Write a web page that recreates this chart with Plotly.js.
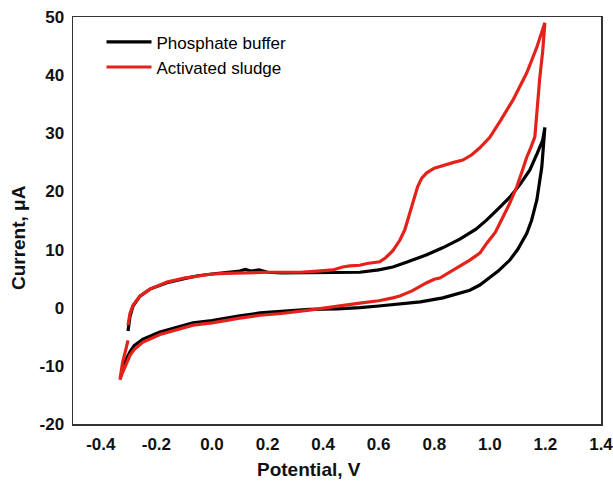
<!DOCTYPE html>
<html>
<head>
<meta charset="utf-8">
<script src="https://cdn.plot.ly/plotly-3.0.1.min.js"></script>
<style>html,body{margin:0;padding:0;background:#fff;}#chart{width:613px;height:482px;}</style>
</head>
<body>
<div id="chart"></div>
<script>
// Phosphate buffer (black) – forward then reverse sweep
var bufferPotential = [
  -0.302,-0.295,-0.284,-0.259,-0.223,-0.162,-0.10,-0.05,0.0,0.05,0.08,0.10,0.12,0.14,0.17,0.20,0.25,0.30,0.35,0.40,0.45,0.532,0.60,0.651,0.70,0.773,0.83,0.892,0.95,0.989,1.03,1.072,1.11,1.144,1.17,1.19,1.198,
  1.192,1.187,1.169,1.15,1.133,1.10,1.072,1.03,0.989,0.964,0.928,0.867,0.831,0.75,0.712,0.65,0.60,0.532,0.45,0.35,0.25,0.173,0.10,0.054,0.0,-0.068,-0.12,-0.187,-0.248,-0.28,-0.295,-0.31,-0.32
];
var bufferCurrent = [
  -4.0,-1.5,0.3,2.0,3.2,4.3,5.0,5.5,5.8,6.0,6.2,6.3,6.6,6.3,6.5,6.1,6.0,6.0,6.1,6.1,6.1,6.1,6.5,7.0,7.8,9.1,10.3,11.8,13.5,15.1,17.0,19.0,21.3,23.7,26.5,28.8,31.0,
  27.0,24.2,18.5,15.0,12.8,10.0,8.2,6.3,4.8,3.9,3.0,2.2,1.7,1.0,0.8,0.5,0.3,0.0,-0.2,-0.3,-0.6,-0.9,-1.4,-1.8,-2.2,-2.6,-3.3,-4.2,-5.4,-6.5,-7.6,-9.0,-10.8
];
// Activated sludge (red)
var sludgePotential = [
  -0.302,-0.295,-0.284,-0.259,-0.223,-0.162,-0.10,-0.05,0.0,0.05,0.10,0.15,0.20,0.25,0.317,0.38,0.435,0.47,0.496,0.532,0.558,0.604,0.625,0.651,0.676,0.694,0.71,0.725,0.74,0.755,0.773,0.80,0.831,0.87,0.903,0.935,0.964,1.0,1.04,1.083,1.133,1.169,1.198,
  1.19,1.18,1.17,1.162,1.147,1.133,1.115,1.097,1.07,1.047,1.02,0.989,0.964,0.928,0.90,0.856,0.82,0.80,0.773,0.72,0.676,0.651,0.60,0.532,0.45,0.35,0.25,0.173,0.10,0.054,0.0,-0.068,-0.12,-0.187,-0.248,-0.28,-0.295,-0.31,-0.322,-0.331,
  -0.322,-0.31,-0.302
];
var sludgeCurrent = [
  -3.0,-1.0,0.4,2.0,3.2,4.4,5.1,5.5,5.8,5.9,6.0,6.1,6.1,6.1,6.1,6.3,6.5,7.0,7.2,7.3,7.6,7.9,8.6,9.8,11.6,13.4,16.0,18.5,20.8,22.3,23.2,24.0,24.5,25.0,25.4,26.3,27.5,29.3,32.3,35.7,40.4,44.8,49.0,
  44.0,39.7,34.0,29.4,27.5,25.9,23.3,20.8,17.8,15.6,13.0,11.1,9.4,8.2,7.4,6.1,5.1,4.9,4.3,2.9,2.0,1.7,1.2,0.8,0.2,-0.4,-1.0,-1.3,-1.8,-2.2,-2.6,-3.0,-3.7,-4.6,-5.9,-7.2,-8.2,-9.8,-11.2,-12.4,
  -9.5,-7.2,-5.6
];
var seriesNames = ["Phosphate buffer", "Activated sludge"];
var xTickVals = [-0.4,-0.2,0.0,0.2,0.4,0.6,0.8,1.0,1.2,1.4];
var xTickText = ["-0.4","-0.2","0.0","0.2","0.4","0.6","0.8","1.0","1.2","1.4"];
var yTickVals = [-20,-10,0,10,20,30,40,50];
var yTickText = ["-20","-10","0","10","20","30","40","50"];

var FONT = "Liberation Sans, Arial, sans-serif";
var traces = [
  {x: bufferPotential, y: bufferCurrent, type: "scatter", mode: "lines", name: seriesNames[0],
   line: {color: "#000000", width: 3.2}},
  {x: sludgePotential, y: sludgeCurrent, type: "scatter", mode: "lines", name: seriesNames[1],
   line: {color: "#e3231b", width: 3.2}}
];
var axisCommon = {
  showline: true, mirror: true, linecolor: "#333333", linewidth: 1.5,
  showgrid: false, zeroline: false, ticks: "outside", ticklen: 4, tickcolor: "rgba(0,0,0,0)",
  ticklabeloverflow: "allow",
  tickfont: {family: FONT, size: 17, color: "#111", weight: "bold"}
};
var layout = {
  width: 613, height: 482,
  margin: {l: 73, r: 12, t: 17, b: 58},
  paper_bgcolor: "#fff", plot_bgcolor: "#fff",
  showlegend: true,
  legend: {x: 0.054, y: 0.982, xanchor: "left", yanchor: "top", bgcolor: "rgba(0,0,0,0)",
           itemwidth: 45,
           font: {family: FONT, size: 17, color: "#000"}},
  xaxis: Object.assign({}, axisCommon, {range: [-0.5, 1.4], tickvals: xTickVals, ticktext: xTickText}),
  yaxis: Object.assign({}, axisCommon, {range: [-20, 50], tickvals: yTickVals, ticktext: yTickText}),
  annotations: [
    {text: "Potential, V", xref: "paper", yref: "paper", x: 0.447, y: -0.113, yanchor: "middle", showarrow: false,
     font: {family: FONT, size: 19, color: "#111", weight: "bold"}},
    {text: "Current, \u03bcA", xref: "paper", yref: "paper", x: -0.104, y: 0.457, xanchor: "center", yanchor: "middle", textangle: -90, showarrow: false,
     font: {family: FONT, size: 19, color: "#111", weight: "bold"}}
  ]
};
Plotly.newPlot("chart", traces, layout, {displayModeBar: false, staticPlot: true});
</script>
</body>
</html>
